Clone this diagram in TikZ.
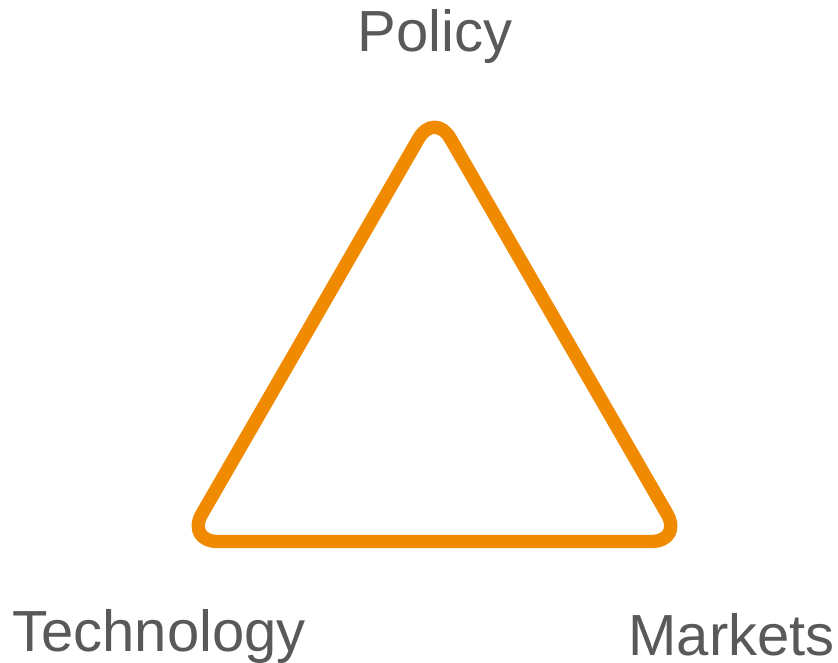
\documentclass[tikz,border=0pt]{standalone}
\usepackage{fontspec}
\setmainfont{Liberation Sans}
\usepackage{tikz}
\tikzset{>=latex}
\usetikzlibrary{positioning}
\definecolor{triorange}{RGB}{240,138,0}
\definecolor{labelgray}{RGB}{89,89,89}
\tikzset{
  cornerlabel/.style={inner sep=0pt, text=labelgray, font=\fontsize{43.5}{50}\selectfont},
  triangleline/.style={draw=triorange, line width=10pt, rounded corners=24pt, line join=round}
}

\begin{document}
\begin{tikzpicture}[x=0.75pt,y=-0.75pt]
                    \useasboundingbox (0,0) rectangle (838,663);
                    \coordinate (top) at (434.5,111);
                    \coordinate (left) at (186,541.5);
                    \coordinate (right) at (683,541.5);
                    \draw[triangleline] (top) -- (right) -- (left) -- cycle;

                    \node[cornerlabel, anchor=base] (policy) at (435,52) {Policy};
                    \node[cornerlabel, anchor=base west] (technology) at (12,651) {Technology};
                    \node[cornerlabel, anchor=base east] (markets) at (835,655) {Markets};
                \end{tikzpicture}
\end{document}
